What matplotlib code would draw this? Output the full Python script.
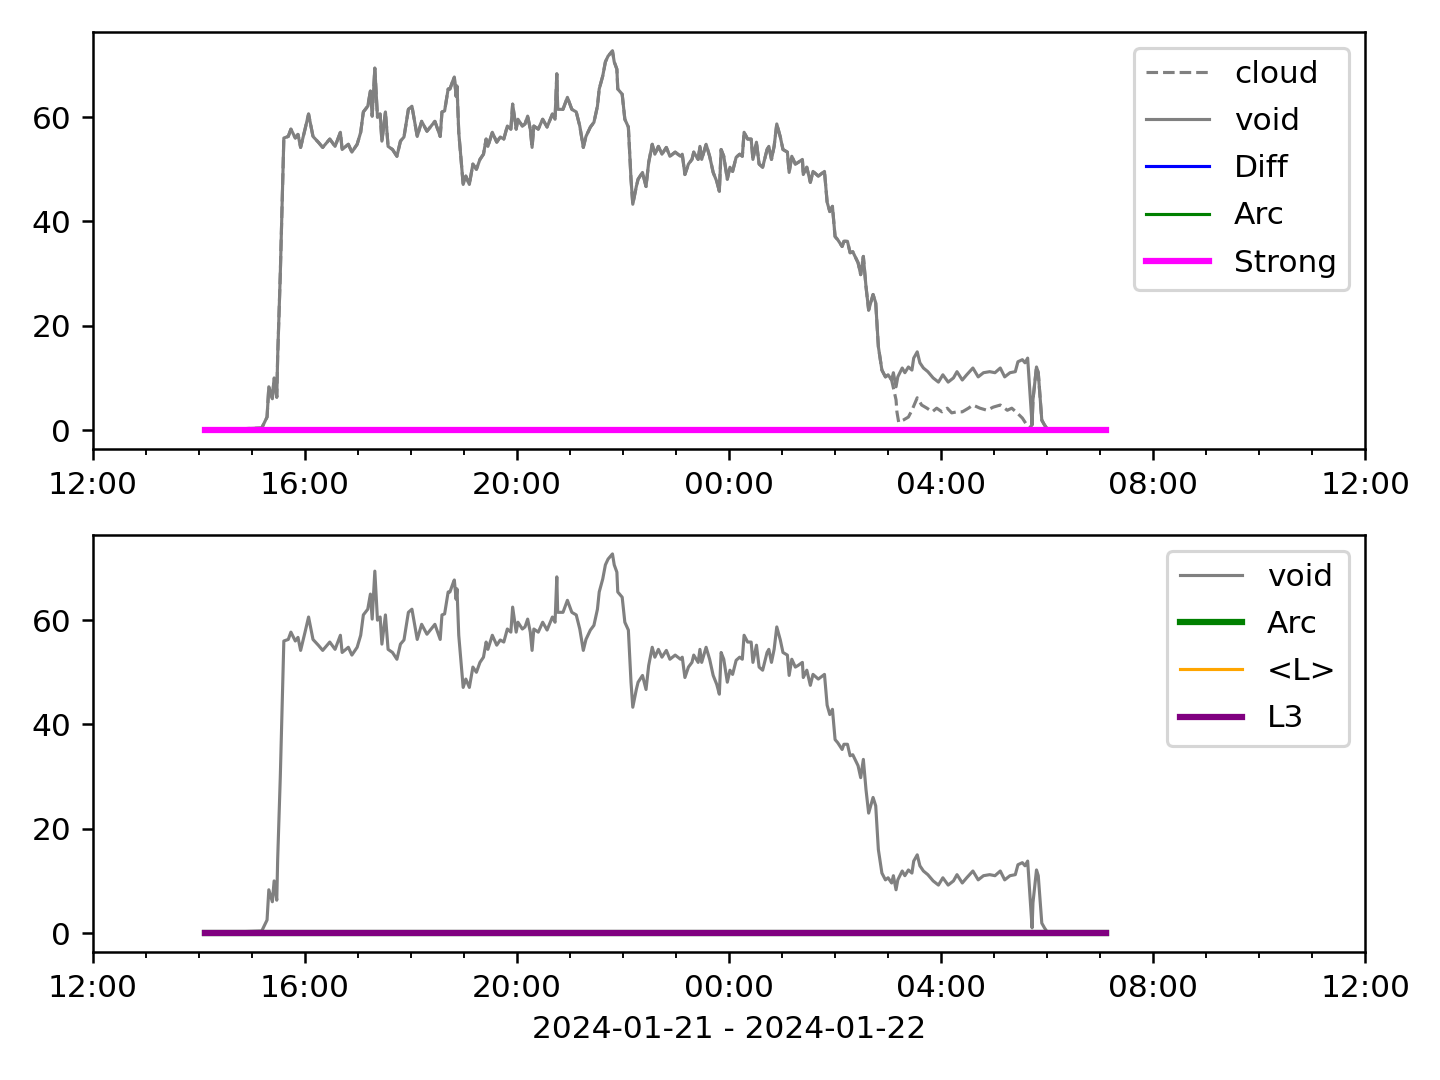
import datetime as dt
import matplotlib
matplotlib.use("Agg")
import matplotlib.pyplot as plt
import matplotlib.dates as mdates

# void signal, clock time (12:00 on day 1 -> 12:00 on day 2) and value
void_times = [
    "14:07", "15:11", "15:17", "15:19", "15:23", "15:25", "15:28", "15:29", "15:32", "15:34",
    "15:36", "15:41", "15:44", "15:49", "15:52", "15:55", "16:00", "16:04", "16:09", "16:15",
    "16:20", "16:28", "16:34", "16:40", "16:42", "16:49", "16:53", "16:59", "17:03", "17:06",
    "17:11", "17:14", "17:16", "17:19", "17:22", "17:25", "17:27", "17:31", "17:34", "17:39",
    "17:44", "17:48", "17:52", "17:57", "18:01", "18:07", "18:12", "18:18", "18:27", "18:33",
    "18:35", "18:38", "18:42", "18:44", "18:48", "18:49", "18:51", "18:52", "18:54", "18:59",
    "19:02", "19:06", "19:10", "19:14", "19:18", "19:22", "19:25", "19:27", "19:32", "19:37",
    "19:41", "19:45", "19:49", "19:53", "19:55", "19:59", "20:01", "20:06", "20:09", "20:12",
    "20:15", "20:17", "20:19", "20:24", "20:29", "20:34", "20:40", "20:43", "20:45", "20:46",
    "20:52", "20:57", "21:02", "21:07", "21:11", "21:15", "21:18", "21:23", "21:27", "21:31",
    "21:33", "21:37", "21:40", "21:43", "21:48", "21:50", "21:53", "21:54", "21:59", "22:02",
    "22:06", "22:09", "22:11", "22:15", "22:17", "22:22", "22:26", "22:29", "22:33", "22:36",
    "22:40", "22:44", "22:49", "22:53", "22:59", "23:05", "23:07", "23:10", "23:14", "23:18",
    "23:20", "23:25", "23:27", "23:29", "23:34", "23:38", "23:42", "23:46", "23:49", "23:51",
    "23:54", "23:58", "00:01", "00:04", "00:08", "00:12", "00:15", "00:17", "00:21", "00:25",
    "00:27", "00:31", "00:34", "00:38", "00:43", "00:45", "00:48", "00:51", "00:54", "00:58",
    "01:01", "01:06", "01:08", "01:11", "01:15", "01:18", "01:23", "01:24", "01:28", "01:32",
    "01:35", "01:41", "01:48", "01:51", "01:54", "01:57", "02:00", "02:03", "02:08", "02:10",
    "02:14", "02:17", "02:20", "02:26", "02:29", "02:32", "02:35", "02:38", "02:43", "02:46",
    "02:49", "02:53", "02:57", "03:00", "03:04", "03:06", "03:09", "03:11", "03:16", "03:19",
    "03:23", "03:27", "03:29", "03:33", "03:36", "03:40", "03:45", "03:51", "03:57", "04:02",
    "04:08", "04:14", "04:18", "04:24", "04:29", "04:36", "04:42", "04:48", "04:55", "05:01",
    "05:07", "05:12", "05:18", "05:24", "05:27", "05:32", "05:35", "05:38", "05:41", "05:43",
    "05:44", "05:48", "05:50", "05:54", "05:57", "06:01", "07:07",
]
void_vals = [
    0.0, 0.4, 2.5, 8.3, 6.0, 10.0, 6.3, 14.0, 30.0, 43.0,
    56.0, 56.3, 57.7, 56.0, 56.7, 54.2, 57.7, 60.6, 56.3, 55.2,
    54.2, 55.8, 54.4, 57.1, 53.8, 54.8, 53.3, 54.8, 57.1, 61.0,
    62.1, 65.0, 60.2, 69.4, 60.0, 60.6, 55.4, 61.0, 54.4, 53.8,
    52.5, 55.4, 56.2, 61.5, 62.1, 56.3, 59.2, 57.3, 59.2, 56.3,
    61.0, 61.2, 65.4, 65.4, 67.3, 67.7, 64.0, 66.0, 57.1, 47.1,
    48.7, 47.1, 51.0, 50.0, 51.9, 52.9, 55.8, 54.4, 57.1, 55.2,
    56.2, 55.8, 58.3, 57.7, 62.5, 57.7, 59.6, 58.3, 58.7, 60.2,
    57.7, 54.2, 58.3, 57.7, 59.6, 58.1, 60.6, 59.6, 68.3, 61.5,
    61.5, 63.8, 61.5, 61.0, 58.3, 54.2, 56.3, 58.1, 59.0, 62.1,
    65.4, 67.9, 70.6, 71.7, 72.7, 70.6, 69.2, 65.4, 64.4, 59.6,
    58.1, 48.1, 43.3, 46.7, 48.1, 49.4, 46.7, 51.3, 54.8, 52.9,
    54.4, 52.9, 54.2, 52.5, 53.3, 52.5, 52.9, 49.0, 51.0, 51.9,
    53.3, 51.9, 54.4, 51.9, 54.8, 52.5, 49.4, 47.7, 45.8, 53.8,
    52.5, 48.1, 50.4, 49.6, 52.3, 52.9, 52.5, 57.1, 55.8, 55.8,
    51.9, 55.2, 51.0, 50.4, 53.8, 54.4, 51.9, 54.4, 58.7, 56.2,
    53.8, 53.3, 49.4, 52.5, 51.0, 51.3, 51.9, 49.0, 50.4, 47.5,
    49.6, 48.7, 49.6, 43.7, 41.9, 42.9, 37.1, 36.5, 35.2, 36.2,
    36.2, 34.0, 34.2, 32.1, 29.8, 33.3, 27.5, 23.0, 26.0, 24.4,
    16.0, 11.5, 10.2, 10.6, 9.6, 11.0, 8.3, 10.2, 11.9, 11.0,
    12.1, 11.5, 13.8, 15.0, 12.9, 11.9, 11.2, 10.0, 9.2, 10.6,
    9.2, 10.0, 11.2, 9.6, 10.6, 11.9, 10.2, 11.0, 11.2, 11.0,
    11.9, 10.2, 11.0, 11.2, 13.1, 13.5, 12.9, 13.8, 6.3, 1.0,
    5.8, 12.1, 11.0, 1.9, 1.0, 0.0, 0.0,
]

# cloud follows void until ~03:05, then drops lower until ~05:42
cloud_split = ("03:05", "05:42")
cloud_tail_times = [
    "03:09", "03:10", "03:12", "03:17", "03:23", "03:27", "03:31", "03:33", "03:38", "03:44",
    "03:50", "03:55", "04:01", "04:07", "04:12", "04:18", "04:24", "04:31", "04:36", "04:44",
    "04:52", "04:59", "05:07", "05:15", "05:20", "05:26", "05:32", "05:37", "05:40",
]
cloud_tail_vals = [
    5.8, 3.5, 1.5, 1.9, 2.5, 3.8, 5.4, 6.2, 4.8, 4.2,
    3.5, 4.2, 3.5, 4.2, 3.3, 3.5, 3.5, 4.2, 4.8, 4.2,
    3.8, 4.4, 4.8, 3.8, 4.2, 3.3, 2.3, 1.0, 0.4,
]

# flat indicator series (all zero over the run)
flat_times = ["14:07", "07:07"]
flat_vals = [0, 0]

day0 = dt.datetime(2024, 1, 21)


def to_dt(hhmm):
    h, m = map(int, hhmm.split(":"))
    d = day0 + dt.timedelta(hours=h, minutes=m)
    if h < 12:
        d += dt.timedelta(days=1)
    return d


void_t = [to_dt(s) for s in void_times]
t_a, t_b = to_dt(cloud_split[0]), to_dt(cloud_split[1])
cloud_t, cloud_v = [], []
for t, v in zip(void_t, void_vals):
    if t < t_a:
        cloud_t.append(t)
        cloud_v.append(v)
cloud_t += [to_dt(s) for s in cloud_tail_times]
cloud_v += cloud_tail_vals
for t, v in zip(void_t, void_vals):
    if t > t_b:
        cloud_t.append(t)
        cloud_v.append(v)

flat_t = [to_dt(s) for s in flat_times]

fig, (ax1, ax2) = plt.subplots(2, 1, figsize=(6.4, 4.8), dpi=225)
fig.subplots_adjust(left=0.0646, right=0.948, top=0.9704, bottom=0.1185, hspace=0.206)

ax1.plot(cloud_t, cloud_v, color="gray", lw=1, ls="--", label="cloud")
ax1.plot(void_t, void_vals, color="gray", lw=1, label="void")
ax1.plot(flat_t, flat_vals, color="blue", lw=1, label="Diff")
ax1.plot(flat_t, flat_vals, color="green", lw=1, label="Arc")
ax1.plot(flat_t, flat_vals, color="magenta", lw=2, label="Strong")
ax1.legend(loc="upper right", labelspacing=0.58)

ax2.plot(void_t, void_vals, color="gray", lw=1, label="void")
ax2.plot(flat_t, flat_vals, color="green", lw=2, label="Arc")
ax2.plot(flat_t, flat_vals, color="orange", lw=1, label="<L>")
ax2.plot(flat_t, flat_vals, color="purple", lw=2, label="L3")
ax2.legend(loc="upper right", labelspacing=0.58)
ax2.set_xlabel("2024-01-21 - 2024-01-22")

for ax in (ax1, ax2):
    ax.set_xlim(day0 + dt.timedelta(hours=12), day0 + dt.timedelta(hours=36))
    ax.xaxis.set_major_locator(mdates.HourLocator(byhour=range(0, 24, 4)))
    ax.xaxis.set_minor_locator(mdates.HourLocator())
    ax.xaxis.set_major_formatter(mdates.DateFormatter("%H:%M"))

plt.savefig("out.png")
